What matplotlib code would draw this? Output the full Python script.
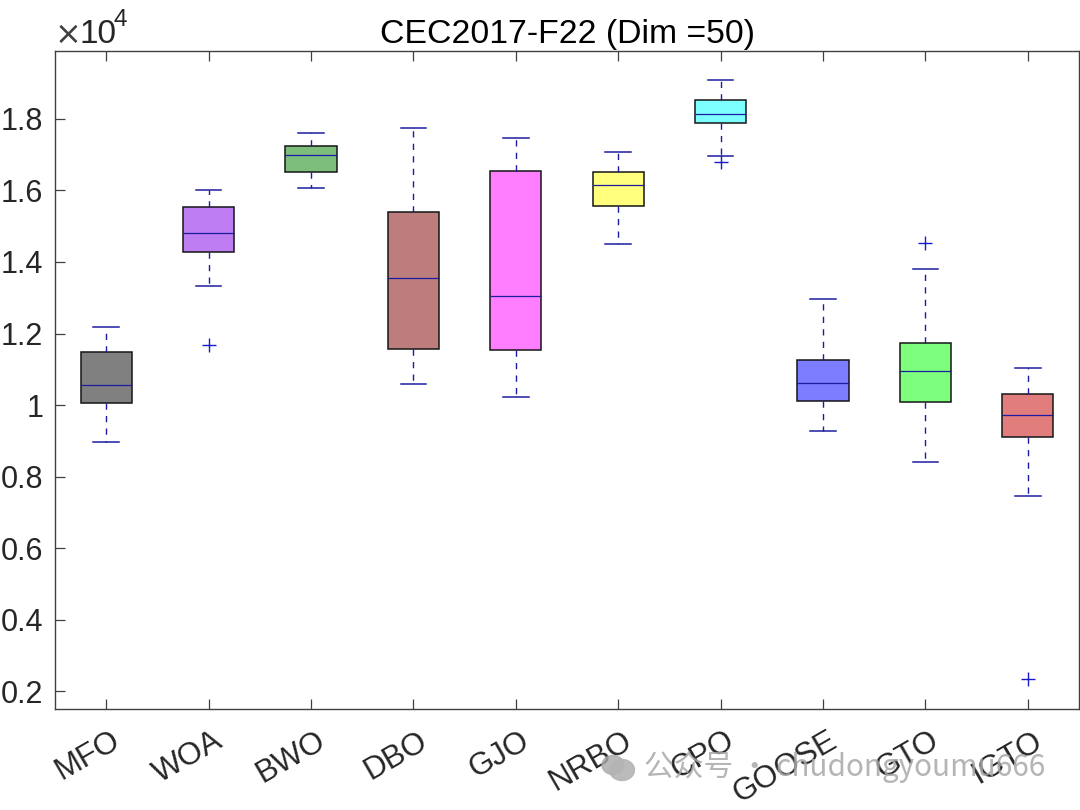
import matplotlib
matplotlib.use('Agg')
import matplotlib.pyplot as plt
from matplotlib.patches import Ellipse
from matplotlib.transforms import ScaledTranslation

names = ['MFO', 'WOA', 'BWO', 'DBO', 'GJO', 'NRBO', 'CPO', 'GOOSE', 'GTO', 'IGTO']
whisker_lo = [8960, 13330, 16070, 10590, 10220, 14500, 16970, 9270, 8410, 7450]
q1 = [10060, 14280, 16520, 11570, 11540, 15570, 17890, 10110, 10080, 9100]
medians = [10560, 14810, 16990, 13550, 13050, 16150, 18140, 10620, 10950, 9720]
q3 = [11480, 15540, 17240, 15400, 16550, 16520, 18530, 11260, 11730, 10310]
whisker_hi = [12180, 16010, 17610, 17750, 17470, 17080, 19090, 12970, 13800, 11030]
outliers = [[], [11680], [], [], [], [], [16800], [], [14530], [2340]]
box_colors = ['#808080', '#be7df0', '#7dbe7d', '#be7d7d', '#ff7dff',
              '#ffff7d', '#7dffff', '#7d7dff', '#7dff7d', '#e17d7d']
y_ticks = [2000, 4000, 6000, 8000, 10000, 12000, 14000, 16000, 18000]
y_labels = ['0.2', '0.4', '0.6', '0.8', '1', '1.2', '1.4', '1.6', '1.8']

plt.rcParams['font.family'] = ['Liberation Sans', 'DejaVu Sans']

fig = plt.figure(figsize=(10.8, 8.1), dpi=100)
ax = fig.add_axes([55 / 1080, 1 - 709 / 810, 1024 / 1080, 658 / 810])

stats = []
for i in range(len(names)):
    stats.append({'whislo': whisker_lo[i], 'q1': q1[i], 'med': medians[i],
                  'q3': q3[i], 'whishi': whisker_hi[i], 'fliers': outliers[i]})

parts = ax.bxp(stats, widths=0.5, patch_artist=True, capwidths=0.25,
               boxprops=dict(edgecolor='#151515', linewidth=1.1),
               medianprops=dict(color='#1c1ca0', linewidth=0.9),
               whiskerprops=dict(color='#1c1ca0', linewidth=1.0, linestyle=(0, (4.5, 4.5))),
               capprops=dict(color='#1c1ca0', linewidth=1.1),
               flierprops=dict(marker='+', markeredgecolor='#1a1acc', markersize=10.5,
                               markeredgewidth=1.0))
for box, c in zip(parts['boxes'], box_colors):
    box.set_facecolor(c)

ax.set_xlim(0.5, 10.5)
ax.set_ylim(1500, 19900)
ax.set_yticks(y_ticks)
ax.set_yticklabels(y_labels, fontsize=22, color='#262626')
ax.set_xticks(range(1, 11))
ax.set_xticklabels(names, fontsize=22.5, color='#262626', rotation=30, ha='right',
                   rotation_mode='anchor')
ax.tick_params(direction='in', length=7, width=0.9, color='#404040', top=True, right=False)
ax.tick_params(axis='x', pad=12)
ax.tick_params(axis='y', pad=8.5)
for s in ax.spines.values():
    s.set_color('#404040')
    s.set_linewidth(1.0)

# rotated labels sit a little right of the tick in the original
shift = ScaledTranslation(3 / 72, 0, fig.dpi_scale_trans)
for lab in ax.get_xticklabels():
    lab.set_transform(lab.get_transform() + shift)

ax.set_title('CEC2017-F22 (Dim =50)', fontsize=24.3, color='black', pad=5.5)
fig.text(54 / 1080, 1 - 44 / 810, r'$\times$', fontsize=23, color='#404040', va='baseline')
fig.text(79 / 1080, 1 - 43 / 810, '10', fontsize=24, color='#262626', va='baseline')
fig.text(114 / 1080, 1 - 26 / 810, '4', fontsize=17.5, color='#262626', va='baseline')

# watermark
fig.patches.append(Ellipse((613 / 1080, 1 - 765 / 810), 22 / 1080, 19 / 810, color='#a8a8a8',
                           alpha=0.8, transform=fig.transFigure))
fig.patches.append(Ellipse((622 / 1080, 1 - 770 / 810), 25 / 1080, 21 / 810, color='#b4b4b4',
                           alpha=0.9, transform=fig.transFigure))
fig.text(644 / 1080, 1 - 767 / 810, '公众号 · chudongyoumu666', fontsize=21.4, color='#a8a8a8',
         alpha=0.85, va='center', family=['Noto Sans CJK SC', 'DejaVu Sans'])

fig.savefig('out.png', dpi=100)
